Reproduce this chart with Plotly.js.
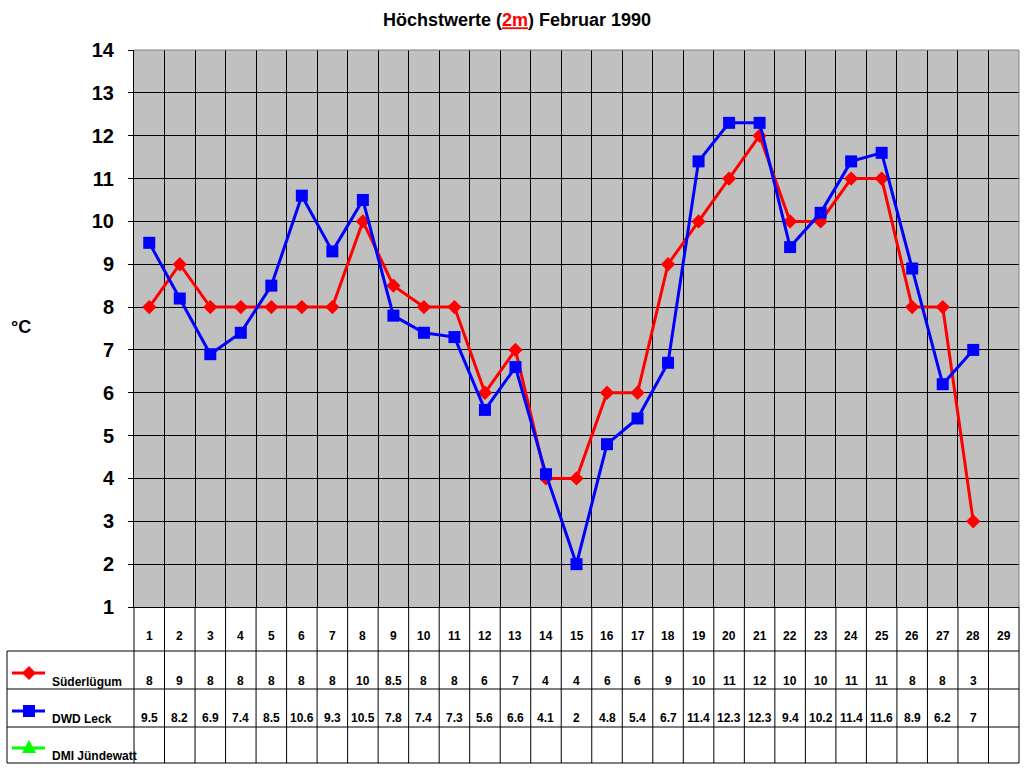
<!DOCTYPE html>
<html>
<head>
<meta charset="utf-8">
<script src="https://cdn.plot.ly/plotly-3.0.1.min.js"></script>
<style>
  html, body { margin: 0; padding: 0; background: #fff; }
  #chart { width: 1024px; height: 768px; }
</style>
</head>
<body>
<div id="chart"></div>
<script>
const days = Array.from({ length: 29 }, (_, i) => i + 1);
const seriesNames = ['Süderlügum', 'DWD Leck', 'DMI Jündewatt'];
const suederluegum = [8, 9, 8, 8, 8, 8, 8, 10, 8.5, 8, 8, 6, 7, 4, 4, 6, 6, 9, 10, 11, 12, 10, 10, 11, 11, 8, 8, 3];
const dwdLeck = [9.5, 8.2, 6.9, 7.4, 8.5, 10.6, 9.3, 10.5, 7.8, 7.4, 7.3, 5.6, 6.6, 4.1, 2, 4.8, 5.4, 6.7, 11.4, 12.3, 12.3, 9.4, 10.2, 11.4, 11.6, 8.9, 6.2, 7];
const dmiJuendewatt = [];

// plot frame in pixels
const PL = 134, PR = 1019, PT = 50, PB = 607;
const px = (x) => (x - PL) / (PR - PL);
const py = (y) => (PB - y) / (PB - PT);

const FONT = 'Liberation Sans, Arial, sans-serif';
const RED = '#ff0000';
const BLUE = '#0000ff';
const GREEN = '#00ff00';

const rowLines = [651, 689, 727, 763];
const rowText = [681, 718, 755];
const seriesColors = [RED, BLUE, GREEN];
const seriesData = [suederluegum, dwdLeck, dmiJuendewatt];

const line = (x0, y0, x1, y1, color = '#000', width = 1) => ({
  type: 'line', xref: 'paper', yref: 'paper',
  x0, y0, x1, y1, line: { color, width }, layer: 'above'
});

const shapes = [];
// top and right edge of the plot in grey
shapes.push(line(0, 1, 1, 1, '#808080', 1));
shapes.push(line(1, 0, 1, 1, '#808080', 1));

// table: vertical lines continue the column grid
days.forEach((_, k) => {
  shapes.push(line(k / days.length, 0, k / days.length, py(763)));
});
shapes.push(line(1, 0, 1, py(763)));
rowLines.forEach((y) => shapes.push(line(px(7), py(y), 1, py(y))));
shapes.push(line(px(7), py(651), px(7), py(763)));

// legend keys in the table
const keyY = [673, 711, 748];
keyY.forEach((y, i) => {
  const c = seriesColors[i];
  shapes.push(line(px(12), py(y), px(45), py(y), c, 3));
  let path;
  const cx = 29;
  if (i === 0) {
    path = `M ${px(cx)} ${py(y - 7)} L ${px(cx + 7)} ${py(y)} L ${px(cx)} ${py(y + 7)} L ${px(cx - 7)} ${py(y)} Z`;
  } else if (i === 1) {
    path = `M ${px(cx - 6)} ${py(y - 6)} L ${px(cx + 6)} ${py(y - 6)} L ${px(cx + 6)} ${py(y + 6)} L ${px(cx - 6)} ${py(y + 6)} Z`;
  } else {
    path = `M ${px(cx)} ${py(y - 8)} L ${px(cx + 7)} ${py(y + 5)} L ${px(cx - 7)} ${py(y + 5)} Z`;
  }
  shapes.push({
    type: 'path', xref: 'paper', yref: 'paper', path,
    fillcolor: c, line: { color: c, width: 0 }, layer: 'above'
  });
});

const cellFont = { family: FONT, size: 12, color: '#000', weight: 'bold' };
const annotations = [];
days.forEach((d) => {
  annotations.push({
    x: d, xref: 'x', y: py(636), yref: 'paper', text: '<b>' + d + '</b>',
    showarrow: false, font: cellFont, xanchor: 'center', yanchor: 'middle'
  });
});
seriesData.forEach((vals, i) => {
  vals.forEach((v, j) => {
    annotations.push({
      x: days[j], xref: 'x', y: py(rowText[i]), yref: 'paper', text: '<b>' + v + '</b>',
      showarrow: false, font: cellFont, xanchor: 'center', yanchor: 'middle'
    });
  });
  annotations.push({
    x: px(50), xref: 'paper', y: py(rowText[i] + 1), yref: 'paper',
    text: '<b>' + seriesNames[i] + '</b>', showarrow: false, font: cellFont,
    xanchor: 'left', yanchor: 'middle'
  });
});
annotations.push({
  x: px(9), xref: 'paper', y: py(327), yref: 'paper', text: '<b>°C</b>',
  showarrow: false, font: { family: FONT, size: 18, color: '#000' },
  xanchor: 'left', yanchor: 'middle'
});

const traces = [
  {
    type: 'scatter', mode: 'lines+markers', name: seriesNames[0],
    x: days.slice(0, suederluegum.length), y: suederluegum,
    line: { color: RED, width: 3 },
    marker: { symbol: 'diamond', size: 11, color: RED }
  },
  {
    type: 'scatter', mode: 'lines+markers', name: seriesNames[1],
    x: days.slice(0, dwdLeck.length), y: dwdLeck,
    line: { color: BLUE, width: 3 },
    marker: { symbol: 'square', size: 12, color: BLUE }
  }
];

const layout = {
  width: 1024, height: 768,
  margin: { l: PL, r: 1024 - PR, t: PT, b: 768 - PB, pad: 0 },
  paper_bgcolor: '#ffffff',
  plot_bgcolor: '#c0c0c0',
  showlegend: false,
  font: { family: FONT, color: '#000' },
  title: {
    text: '<b>Höchstwerte (<span style="color:#ff0000"><u>2m</u></span>) Februar 1990</b>',
    font: { family: FONT, size: 18, color: '#000' },
    x: 517 / 1024, xanchor: 'center', xref: 'container',
    y: 1 - 20 / 768, yanchor: 'middle', yref: 'container'
  },
  xaxis: {
    range: [0.5, 29.5], tickmode: 'linear', tick0: 0.5, dtick: 1,
    showticklabels: false, ticks: '', showgrid: true, gridcolor: '#000', gridwidth: 1,
    zeroline: false, showline: true, linecolor: '#000', linewidth: 1, fixedrange: true
  },
  yaxis: {
    range: [1, 14], tickmode: 'linear', tick0: 1, dtick: 1,
    ticks: 'outside', ticklen: 5, tickcolor: '#000', tickwidth: 1,
    ticklabelstandoff: 10,
    tickfont: { family: FONT, size: 20, color: '#000', weight: 'bold' },
    showgrid: true, gridcolor: '#000', gridwidth: 1,
    zeroline: false, showline: true, linecolor: '#000', linewidth: 1, fixedrange: true
  },
  shapes,
  annotations
};

Plotly.newPlot('chart', traces, layout, { displayModeBar: false, staticPlot: true });
</script>
</body>
</html>
